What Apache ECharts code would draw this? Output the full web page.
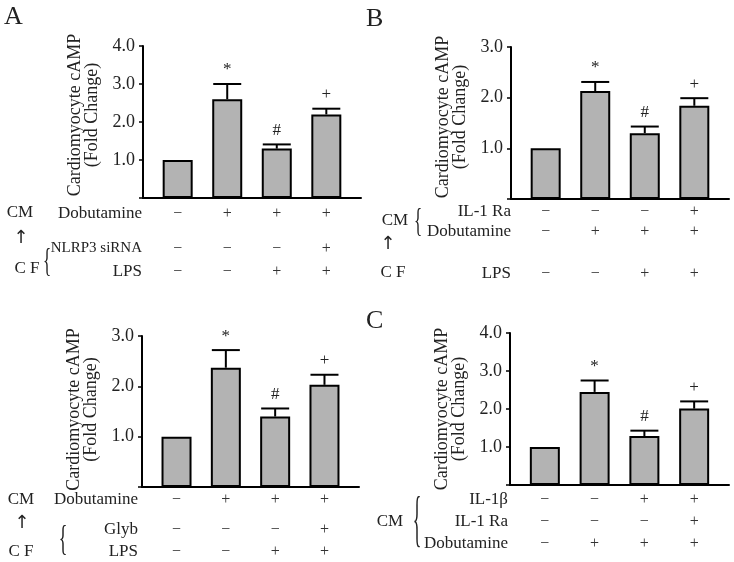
<!DOCTYPE html>
<html><head><meta charset="utf-8">
<script src="https://cdn.jsdelivr.net/npm/echarts@6/dist/echarts.min.js"></script>
<style>html,body{margin:0;padding:0;background:#fff}#c{width:734px;height:562px}</style>
</head><body><div id="c"></div>
<script>
// ---------- data ----------
const groupIndex = [0, 1, 2, 3];
// Panel A (upper left)
const aMeans = [1.0, 2.60, 1.30, 2.20];
const aErrs  = [0, 0.40, 0.11, 0.15];
const aMarks = ['', '*', '#', '+'];
const aRowLabels = ['Dobutamine', 'NLRP3 siRNA', 'LPS'];
const aDobutamine = ['−', '+', '+', '+'];
const aNlrp3 = ['−', '−', '−', '+'];
const aLps = ['−', '−', '+', '+'];
// Panel B (upper right)
const bMeans = [1.0, 2.13, 1.30, 1.84];
const bErrs  = [0, 0.18, 0.13, 0.15];
const bMarks = ['', '*', '#', '+'];
const bRowLabels = ['IL-1 Ra', 'Dobutamine', 'LPS'];
const bIl1ra = ['−', '−', '−', '+'];
const bDobutamine = ['−', '+', '+', '+'];
const bLps = ['−', '−', '+', '+'];
// Panel A lower (Glyb)
const dMeans = [1.0, 2.37, 1.40, 2.03];
const dErrs  = [0, 0.35, 0.16, 0.20];
const dMarks = ['', '*', '#', '+'];
const dRowLabels = ['Dobutamine', 'Glyb', 'LPS'];
const dDobutamine = ['−', '+', '+', '+'];
const dGlyb = ['−', '−', '−', '+'];
const dLps = ['−', '−', '+', '+'];
// Panel C (lower right)
const cMeans = [1.0, 2.45, 1.29, 2.01];
const cErrs  = [0, 0.30, 0.14, 0.19];
const cMarks = ['', '*', '#', '+'];
const cRowLabels = ['IL-1β', 'IL-1 Ra', 'Dobutamine'];
const cIl1b = ['−', '−', '+', '+'];
const cIl1ra = ['−', '−', '−', '+'];
const cDobutamine = ['−', '+', '+', '+'];
// y axis maxima
const yMax = [4, 3, 3, 4];
const yTitle = 'Cardiomyocyte cAMP\n(Fold Change)';

// ---------- layout ----------
const SERIF = '"Liberation Serif", "Times New Roman", serif';
const grids = [
  {left: 143, top: 46, width: 218, height: 152},
  {left: 511, top: 47, width: 218, height: 152},
  {left: 142, top: 336, width: 217, height: 151},
  {left: 510, top: 333, width: 219, height: 152}
];
const titlePad = [[0, 0, 0, 14], [0, 0, 0, 12], [0, 0, 0, 4], [0, 0, 0, 0]];
const panels = [
  {means: aMeans, errs: aErrs, marks: aMarks, rows: [aDobutamine, aNlrp3, aLps], labels: aRowLabels,
   offs: [15.5, 50.5, 74], labelRight: 142, labelSizes: [17, 15, 17]},
  {means: bMeans, errs: bErrs, marks: bMarks, rows: [bIl1ra, bDobutamine, bLps], labels: bRowLabels,
   offs: [12.3, 33, 75], labelRight: 511, labelSizes: [17, 17, 17]},
  {means: dMeans, errs: dErrs, marks: dMarks, rows: [dDobutamine, dGlyb, dLps], labels: dRowLabels,
   offs: [12.5, 42.5, 65], labelRight: 138, labelSizes: [17, 17, 17]},
  {means: cMeans, errs: cErrs, marks: cMarks, rows: [cIl1b, cIl1ra, cDobutamine], labels: cRowLabels,
   offs: [15, 37, 59], labelRight: 508, labelSizes: [17, 17, 17]}
];

const xAxes = [], yAxes = [], series = [], graphics = [];
panels.forEach((p, k) => {
  xAxes.push({
    gridIndex: k, type: 'value', min: -0.7, max: 3.7,
    axisLine: {show: true, onZero: false, lineStyle: {color: '#000', width: 2}},
    axisTick: {show: false}, axisLabel: {show: false}, splitLine: {show: false}
  });
  yAxes.push({
    gridIndex: k, type: 'value', min: 0, max: yMax[k], interval: 1,
    name: yTitle, nameLocation: 'middle', nameGap: 42, nameRotate: 90,
    nameTextStyle: {fontFamily: SERIF, fontSize: 18, lineHeight: 17, color: '#222', padding: titlePad[k]},
    axisLine: {show: true, onZero: false, lineStyle: {color: '#000', width: 2}},
    axisTick: {show: true, inside: false, length: 4, lineStyle: {color: '#000', width: 1.5}},
    axisLabel: {fontFamily: SERIF, fontSize: 18, color: '#222', margin: 8,
      formatter: v => v === 0 ? '' : v.toFixed(1)},
    splitLine: {show: false}
  });
  series.push({
    type: 'bar', xAxisIndex: k, yAxisIndex: k, barWidth: 30,
    data: groupIndex.map(i => [i, p.means[i]]),
    itemStyle: {color: '#b3b3b3', borderColor: '#000', borderWidth: 2},
    z: 2
  });
  series.push({
    type: 'custom', xAxisIndex: k, yAxisIndex: k, z: 3,
    data: groupIndex.map(i => [i, p.means[i], p.errs[i]]),
    renderItem: (params, api) => {
      const i = api.value(0), m = api.value(1), e = api.value(2);
      const p0 = api.coord([i, m]);
      const p1 = api.coord([i, m + e]);
      const ch = [];
      if (e > 0) {
        ch.push({type: 'line', shape: {x1: p0[0], y1: p0[1], x2: p1[0], y2: p1[1]}, style: {stroke: '#000', lineWidth: 2}});
        ch.push({type: 'line', shape: {x1: p1[0] - 14, y1: p1[1], x2: p1[0] + 14, y2: p1[1]}, style: {stroke: '#000', lineWidth: 2}});
      }
      const mk = p.marks[params.dataIndex];
      if (mk) {
        ch.push({type: 'text', x: p1[0], y: p1[1] - 14,
          style: {text: mk, fontFamily: SERIF, fontSize: 17, fill: '#222', align: 'center', verticalAlign: 'middle'}});
      }
      return {type: 'group', children: ch};
    }
  });
  series.push({
    type: 'custom', xAxisIndex: k, yAxisIndex: k, z: 3, clip: false,
    data: groupIndex.map(i => [i, 0]),
    renderItem: (params, api) => {
      const i = api.value(0);
      const b = api.coord([i, 0]);
      return {type: 'group', children: p.rows.map((row, r) => ({
        type: 'text', x: b[0], y: b[1] + p.offs[r],
        style: {text: row[params.dataIndex], fontFamily: SERIF, fontSize: 16, fill: '#333', align: 'center', verticalAlign: 'middle'}
      }))};
    }
  });
  const base = grids[k].top + grids[k].height;
  p.labels.forEach((lab, r) => {
    graphics.push({type: 'text', x: p.labelRight, y: base + p.offs[r],
      style: {text: lab, fontFamily: SERIF, fontSize: p.labelSizes[r], fill: '#222', align: 'right', verticalAlign: 'middle'}});
  });
});

function txt(t, x, y, size, align, extra) {
  return Object.assign({type: 'text', x: x, y: y,
    style: {text: t, fontFamily: SERIF, fontSize: size, fill: '#222', align: align || 'center', verticalAlign: 'middle'}}, extra || {});
}
const arrowStyle = {text: '↑', fontFamily: 'DejaVu Sans', fontSize: 18, fill: '#222', align: 'center', verticalAlign: 'middle'};
// panel letters
graphics.push(txt('A', 4, 17, 26, 'left'));
graphics.push(txt('B', 366, 19, 26, 'left'));
graphics.push(txt('C', 366, 321, 26, 'left'));
// Panel A side labels
graphics.push(txt('CM', 20, 213, 17));
graphics.push(txt('↑', 21, 238, 18, 'center', {style: arrowStyle}));
graphics.push(txt('C F', 27, 269, 17));
graphics.push(txt('{', 47, 262, 34, 'center', {scaleX: 0.5}));
// Panel B side labels
graphics.push(txt('CM', 395, 221, 17));
graphics.push(txt('{', 418, 222, 34, 'center', {scaleX: 0.5}));
graphics.push(txt('↑', 388, 244, 18, 'center', {style: arrowStyle}));
graphics.push(txt('C F', 393, 273, 17));
// Panel lower-left side labels
graphics.push(txt('CM', 21, 500, 17));
graphics.push(txt('↑', 22, 523, 18, 'center', {style: arrowStyle}));
graphics.push(txt('C F', 21, 552, 17));
graphics.push(txt('{', 63, 541, 36, 'center', {scaleX: 0.5}));
// Panel C side labels
graphics.push(txt('CM', 390, 522, 17));
graphics.push(txt('{', 417, 523, 36, 'center', {scaleX: 0.5, scaleY: 1.7}));

const chart = echarts.init(document.getElementById('c'), null, {renderer: 'canvas'});
chart.setOption({
  animation: false,
  backgroundColor: '#fff',
  grid: grids,
  xAxis: xAxes,
  yAxis: yAxes,
  series: series,
  graphic: graphics
});
</script>
</body></html>
